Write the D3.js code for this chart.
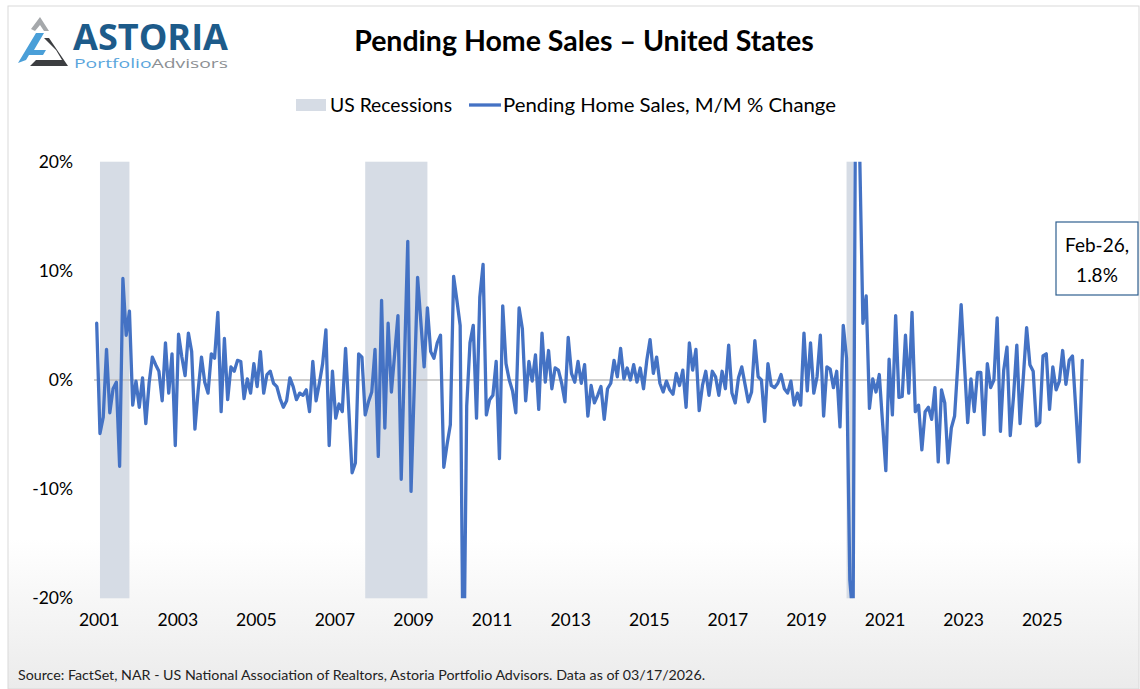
<!DOCTYPE html>
<html>
<head>
<meta charset="utf-8">
<script src="https://cdn.jsdelivr.net/npm/d3@7"></script>
<style>
  body { margin: 0; background: #fff; }
  svg { display: block; font-family: Lato, "Open Sans", "Noto Sans", sans-serif; }
</style>
</head>
<body>
<div id="chart"></div>
<script>
// Pending Home Sales, M/M % change, monthly Jan-2001 .. Feb-2026
const firstMonth = [2001, 1];
const momChange = [
  5.2, -4.9, -3.4, 2.8, -3.0, -0.8, -0.2, -7.9, 9.3, 4.1, 6.3, -2.3,
  -0.1, -2.5, 0.2, -4.0, -0.3, 2.1, 1.4, 0.8, -1.9, 3.4, -1.2, 2.4,
  -6.0, 4.2, 2.1, 0.4, 4.3, 2.6, -4.5, -0.9, 2.1, -0.2, -1.2, 2.4,
  2.0, 6.2, -2.9, 3.8, -1.8, 1.2, 0.8, 1.8, 1.7, -1.7, 0.1, -1.2,
  1.5, -0.6, 2.6, -1.2, 0.5, 0.8, -0.3, -0.6, -1.7, -2.5, -1.9, 0.2,
  -0.6, -1.8, -1.2, -1.4, -0.9, -2.9, 1.7, -1.9, -0.3, 1.5, 4.6, -6.0,
  0.8, -3.5, -2.2, -2.9, 2.9, -2.8, -8.5, -7.6, 2.4, 2.1, -3.2, -2.0,
  -1.1, 2.8, -7.0, 7.3, -4.4, 5.2, -1.1, 2.4, 5.9, -9.1, 1.8, 12.7,
  -10.2, -0.4, 9.4, 5.3, 1.2, 6.6, 2.6, 2.0, 3.4, 4.1, -8.0, -5.9,
  -4.1, 9.5, 7.3, 5.0, -30.0, -2.4, 3.4, 5.0, -3.5, 7.6, 10.6, -3.2,
  -1.8, -1.4, 1.7, -7.2, 6.8, 1.5, 0.0, -1.0, -3.0, 6.6, 4.7, -1.9,
  1.7, -0.1, 2.3, -2.7, 4.3, -0.2, 2.7, -0.8, 1.1, 0.9, -0.3, -2.0,
  3.9, 0.6, -0.2, 1.7, -0.3, 1.4, -3.3, -0.5, -2.1, -1.4, -0.6, -3.6,
  -0.8, -0.3, 1.8, 0.3, 2.9, 0.1, 1.1, 0.0, 1.4, -0.2, 1.1, -0.8,
  1.8, 3.7, 0.6, 2.1, -0.3, -1.1, -0.1, -0.9, -1.3, 0.6, -0.5, 0.9,
  -2.5, 3.4, 0.9, 2.8, -2.8, -0.5, 0.8, -1.4, 0.8, 0.3, -1.4, 0.8,
  -0.8, 3.2, -1.2, -2.1, 0.2, 1.2, -0.4, -2.0, -1.1, 3.6, 0.3, 0.0,
  -3.8, 1.5, -0.5, -0.7, -0.3, 0.5, -0.8, -1.2, -0.1, -2.3, -1.2, -2.3,
  4.3, -1.0, 3.4, -1.2, 0.3, 4.1, -3.3, 1.2, 1.0, -0.7, 0.8, -4.3,
  5.0, 2.0, -18.3, -22.0, 44.0, 21.0, 5.2, 7.7, -2.6, 0.1, -1.1, 0.5,
  -3.9, -8.3, 1.9, -3.2, 5.9, -1.6, -1.5, 4.1, -1.2, 6.2, -2.9, -2.3,
  -6.4, -2.9, -2.5, -3.6, -0.7, -7.5, -0.9, -2.1, -7.6, -4.4, -3.3, 1.5,
  6.9, 1.5, -3.9, 0.1, -2.9, 0.7, 0.7, -5.0, 1.5, -0.7, 0.0, 5.7,
  -4.7, 0.9, 3.0, -5.1, -1.5, 3.2, -4.0, 0.3, 4.8, 1.4, 0.8, -4.2,
  -3.9, 2.2, 2.4, -2.7, 1.2, -0.9, -0.1, 2.7, -0.4, 1.8, 2.2, -2.6,
  -7.5, 1.8
];

// NBER recessions [first month, last month]
const recessions = [
  [[2001, 3], [2001, 11]],
  [[2007, 12], [2009, 6]],
  [[2020, 3], [2020, 4]]
];

const yTicks = [-20, -10, 0, 10, 20];
const xTickYears = [2001, 2003, 2005, 2007, 2009, 2011, 2013, 2015, 2017, 2019, 2021, 2023, 2025];

const seriesName = "Pending Home Sales, M/M % Change";
const recessionName = "US Recessions";
const lastLabel = ["Feb-26,", "1.8%"];

const W = 1140, H = 689;
const blue = "#4472c4";
const font = "Lato, 'Open Sans', sans-serif";

function monthIndex(ym) {
  return (ym[0] - firstMonth[0]) * 12 + (ym[1] - firstMonth[1]);
}

const svg = d3.select("#chart").append("svg")
  .attr("width", W).attr("height", H)
  .attr("viewBox", `0 0 ${W} ${H}`);

// background + soft grey fade near the bottom
const defs = svg.append("defs");
const bg = defs.append("linearGradient").attr("id", "bgfade").attr("x1", 0).attr("x2", 0).attr("y1", 0).attr("y2", 1);
bg.append("stop").attr("offset", "0%").attr("stop-color", "#ffffff");
bg.append("stop").attr("offset", "78%").attr("stop-color", "#ffffff");
bg.append("stop").attr("offset", "100%").attr("stop-color", "#ebebeb");

svg.append("rect").attr("x", 0).attr("y", 0).attr("width", W).attr("height", H).attr("fill", "#fff");
svg.append("rect").attr("x", 8).attr("y", 6).attr("width", W - 9).attr("height", H - 6)
  .attr("fill", "url(#bgfade)").attr("stroke", "#d9d9d9").attr("stroke-width", 1);

// scales
const x = d3.scaleLinear().domain([0, momChange.length - 1]).range([96.7, 1082.3]);
const y = d3.scaleLinear().domain([-20, 20]).range([598.3, 161.7]);

// recession bands
svg.append("g").selectAll("rect")
  .data(recessions)
  .join("rect")
  .attr("x", d => x(monthIndex(d[0]) - 1))
  .attr("width", d => x(monthIndex(d[1])) - x(monthIndex(d[0]) - 1))
  .attr("y", y(20))
  .attr("height", y(-20) - y(20))
  .attr("fill", "#d6dce5");

// zero line
svg.append("line")
  .attr("x1", 94).attr("x2", 1088)
  .attr("y1", y(0)).attr("y2", y(0))
  .attr("stroke", "#bfbfbf").attr("stroke-width", 1.5);

// y axis labels
const yAxis = d3.axisLeft(y).tickValues(yTicks).tickSize(0).tickPadding(0)
  .tickFormat(d => d + "%");
svg.append("g").attr("transform", "translate(73,0)").call(yAxis)
  .call(g => g.select(".domain").remove())
  .selectAll("text")
  .attr("font-family", font)
  .attr("font-size", 17.5).attr("fill", "#000");

// x axis labels (January of odd years)
const xAxis = d3.axisBottom(x)
  .tickValues(xTickYears.map(yr => monthIndex([yr, 1])))
  .tickSize(0).tickPadding(0)
  .tickFormat((d, i) => xTickYears[i]);
svg.append("g").attr("transform", "translate(2,614)").call(xAxis)
  .call(g => g.select(".domain").remove())
  .selectAll("text")
  .attr("font-family", font)
  .attr("font-size", 17.5).attr("fill", "#000");

// the series, clipped to the plot area
defs.append("clipPath").attr("id", "plotclip")
  .append("rect").attr("x", 80).attr("y", y(20)).attr("width", 1020).attr("height", y(-20) - y(20));

const line = d3.line()
  .x((d, i) => x(i))
  .y(d => y(d));

svg.append("path")
  .datum(momChange)
  .attr("clip-path", "url(#plotclip)")
  .attr("d", line)
  .attr("fill", "none")
  .attr("stroke", blue)
  .attr("stroke-width", 3.3)
  .attr("stroke-linejoin", "round")
  .attr("stroke-linecap", "round");

// title
svg.append("text")
  .attr("x", 584).attr("y", 51)
  .attr("text-anchor", "middle")
  .attr("font-family", font)
  .attr("font-weight", "bold")
  .attr("font-size", 28.5)
  .attr("fill", "#000")
  .text("Pending Home Sales \u2013 United States");

// legend
const lg = svg.append("g").attr("font-family", font).attr("font-size", 19.5).attr("fill", "#000");
lg.append("rect").attr("x", 296).attr("y", 99).attr("width", 30).attr("height", 12).attr("fill", "#d6dce5");
lg.append("text").attr("x", 330).attr("y", 112)
  .attr("textLength", 122).attr("lengthAdjust", "spacingAndGlyphs")
  .text(recessionName);
lg.append("line").attr("x1", 469).attr("x2", 501).attr("y1", 105).attr("y2", 105)
  .attr("stroke", blue).attr("stroke-width", 3.3);
lg.append("text").attr("x", 503).attr("y", 112)
  .attr("textLength", 333).attr("lengthAdjust", "spacingAndGlyphs")
  .text(seriesName);

// last value callout
svg.append("rect").attr("x", 1056).attr("y", 222).attr("width", 82).attr("height", 73)
  .attr("fill", "#fff").attr("stroke", "#2f5f8f").attr("stroke-width", 1.2);
svg.append("text")
  .attr("text-anchor", "middle")
  .attr("font-family", font)
  .attr("font-size", 19).attr("fill", "#000")
  .selectAll("tspan").data(lastLabel).join("tspan")
  .attr("x", 1097).attr("y", (d, i) => 252 + i * 30)
  .text(d => d);

// source strip
svg.append("text")
  .attr("x", 18).attr("y", 680)
  .attr("font-family", font)
  .attr("font-size", 14).attr("fill", "#222")
  .attr("textLength", 687).attr("lengthAdjust", "spacingAndGlyphs")
  .text("Source: FactSet, NAR - US National Association of Realtors, Astoria Portfolio Advisors. Data as of 03/17/2026.");

// logo
const logo = svg.append("g");
logo.append("path").attr("d", "M31,29 L40,17 L49,31 L44,31 L40,25 L35,31 Z").attr("fill", "#a5a8ab");
logo.append("path").attr("d", "M18,63 L36,33 L44,33 L34,50 L46,50 L43,55 L29,55 L26,60 Z").attr("fill", "#4a9fd8");
logo.append("path").attr("d", "M36,60 L62,60 L56,50 L44,38 L49,38 L68,66 L30,66 Z").attr("fill", "#3c3e41");
logo.append("text").attr("x", 73).attr("y", 50)
  .attr("font-family", "'Open Sans', 'Noto Sans', sans-serif")
  .attr("font-weight", "bold").attr("font-size", 36).attr("fill", "#1d5b8a")
  .attr("textLength", 155).attr("lengthAdjust", "spacingAndGlyphs")
  .text("ASTORIA");
const sub = logo.append("text").attr("x", 74).attr("y", 68)
  .attr("font-family", "'Open Sans', 'Noto Sans', sans-serif")
  .attr("font-size", 13)
  .attr("textLength", 154).attr("lengthAdjust", "spacingAndGlyphs");
sub.append("tspan").attr("fill", "#5aa5dc").text("Portfolio");
sub.append("tspan").attr("fill", "#8c8f93").text("Advisors");
</script>
</body>
</html>
